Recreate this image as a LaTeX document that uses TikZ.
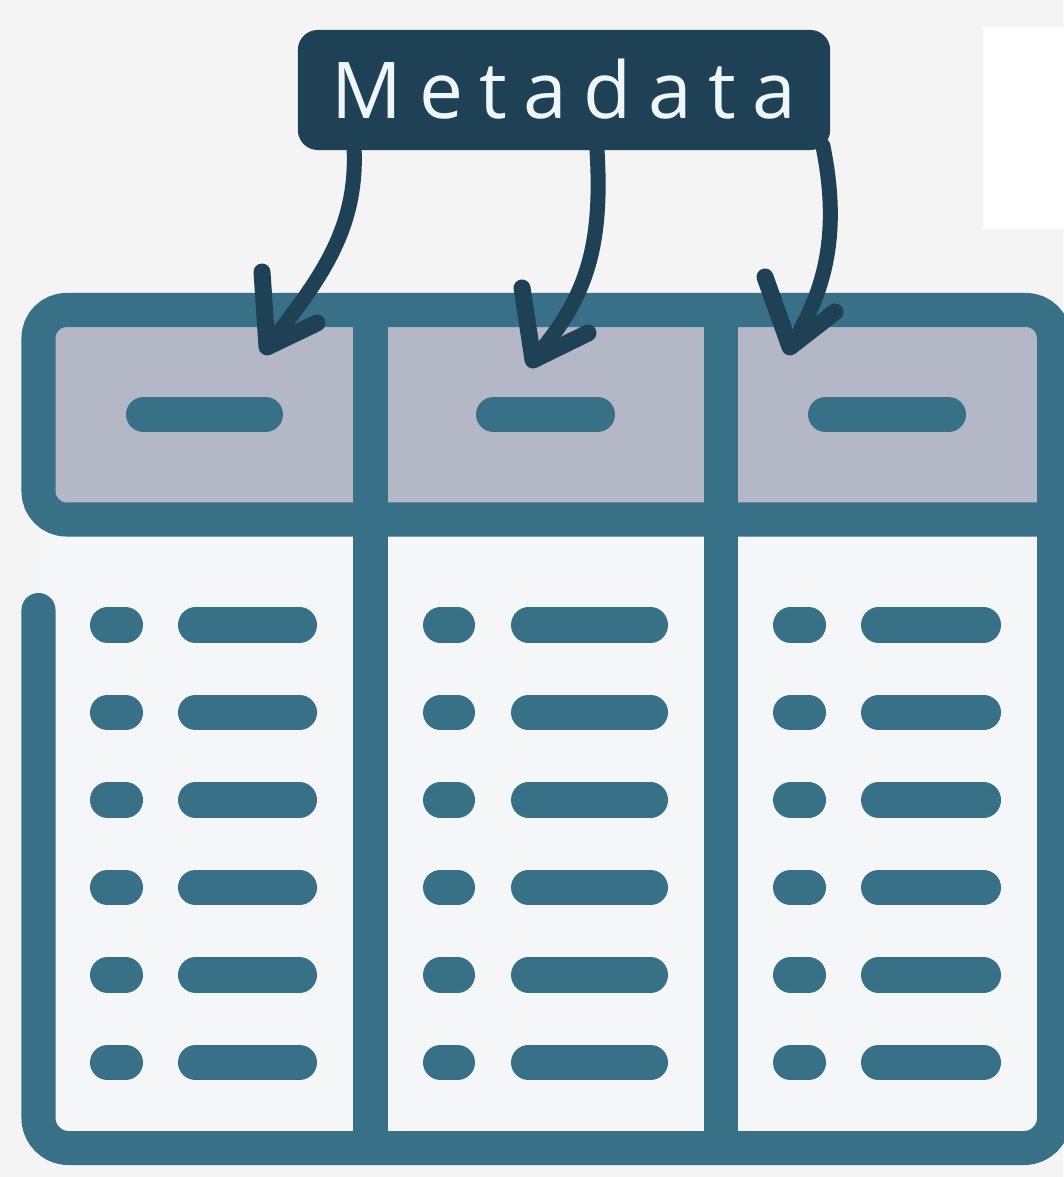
\documentclass[tikz,border=0pt]{standalone}
\usepackage{fontspec}
\newfontfamily\metafont[LetterSpace=21]{Open Sans}

\definecolor{framecol}{HTML}{377087}
\definecolor{headfill}{HTML}{B4B8C6}
\definecolor{navy}{HTML}{1E4155}
\definecolor{pagebg}{HTML}{F4F4F4}
\definecolor{cellbg}{HTML}{F4F6F8}
\definecolor{tagtext}{HTML}{EEF6F8}

\begin{document}
\begin{tikzpicture}[x=0.01cm, y=-0.01cm,
    frame/.style={draw=framecol, line width=0.34cm},
    bar/.style={framecol, line width=0.35cm, line cap=round},
    curvearrow/.style={navy, line width=0.15cm, line cap=round, line join=round},
    barb/.style={curvearrow, line width=0.17cm},
    tag/.style={fill=navy, rounded corners=0.2cm, text=tagtext, inner sep=0pt,
        minimum width=5.32cm, minimum height=1.2cm,
        font=\metafont\fontsize{22.3}{26}\selectfont}]
    \fill[pagebg] (0,0) rectangle (1063,1177);
    \useasboundingbox (0,0) rectangle (1063,1177);
    \fill[white] (983,27) rectangle (1063,229);

    % --- cells ---
    \fill[cellbg] (38,519) rectangle (1054,1148);
    \fill[headfill, rounded corners=0.28cm] (38.5,310) rectangle (1054,519.5);

    % --- frame of the table ---
    \draw[frame, rounded corners=0.28cm] (1054,519.5) -- (38.5,519.5) -- (38.5,310) -- (1054,310) -- (1054,540);
    \draw[frame, line cap=round, rounded corners=0.3cm] (38.5,610) -- (38.5,1148) -- (1054,1148) -- (1054,519.5);
    \draw[frame] (370.5,310) -- (370.5,1148);
    \draw[frame] (720.5,310) -- (720.5,1148);

    % --- header dashes ---
    \draw[bar] (143.5,414.5) -- (265.5,414.5);
    \draw[bar] (493.5,414.5) -- (597.5,414.5);
    \draw[bar] (825.5,414.5) -- (948.5,414.5);

    % --- rows: dot and dash in each column ---
    \foreach \y in {625,712.5,800,887.5,975,1062.5} {
        \draw[bar] (107.5,\y) -- (125.5,\y);
        \draw[bar] (195.5,\y) -- (299.5,\y);
        \draw[bar] (440.5,\y) -- (457.5,\y);
        \draw[bar] (528.5,\y) -- (650.5,\y);
        \draw[bar] (790.5,\y) -- (808.5,\y);
        \draw[bar] (878.5,\y) -- (983.5,\y);
    }

    % --- label and its arrows ---
    \node[tag] (meta) at (564,90) {\raisebox{0.8pt}{Metadata}};

    \coordinate (s1) at ([xshift=0.57cm]meta.south west);
    \coordinate (s2) at ([xshift=0.33cm]meta.south);
    \coordinate (s3) at ([xshift=-0.08cm, yshift=0.05cm]meta.south east);
    \coordinate (t1) at (267,347);
    \coordinate (t2) at (533,360);
    \coordinate (t3) at (790,347);

    \draw[curvearrow] (s1) .. controls (357,230) and (320,280) .. (t1);
    \draw[barb] (262,272) -- (t1) -- (317,323);

    \draw[curvearrow] (s2) .. controls (603,250) and (585,300) .. (t2);
    \draw[barb] (522,288) -- (t2) -- (588,333);

    \draw[curvearrow] (s3) .. controls (840,230) and (827,290) .. (t3);
    \draw[barb] (765,277) -- (t3) -- (835,312);
\end{tikzpicture}
\end{document}
